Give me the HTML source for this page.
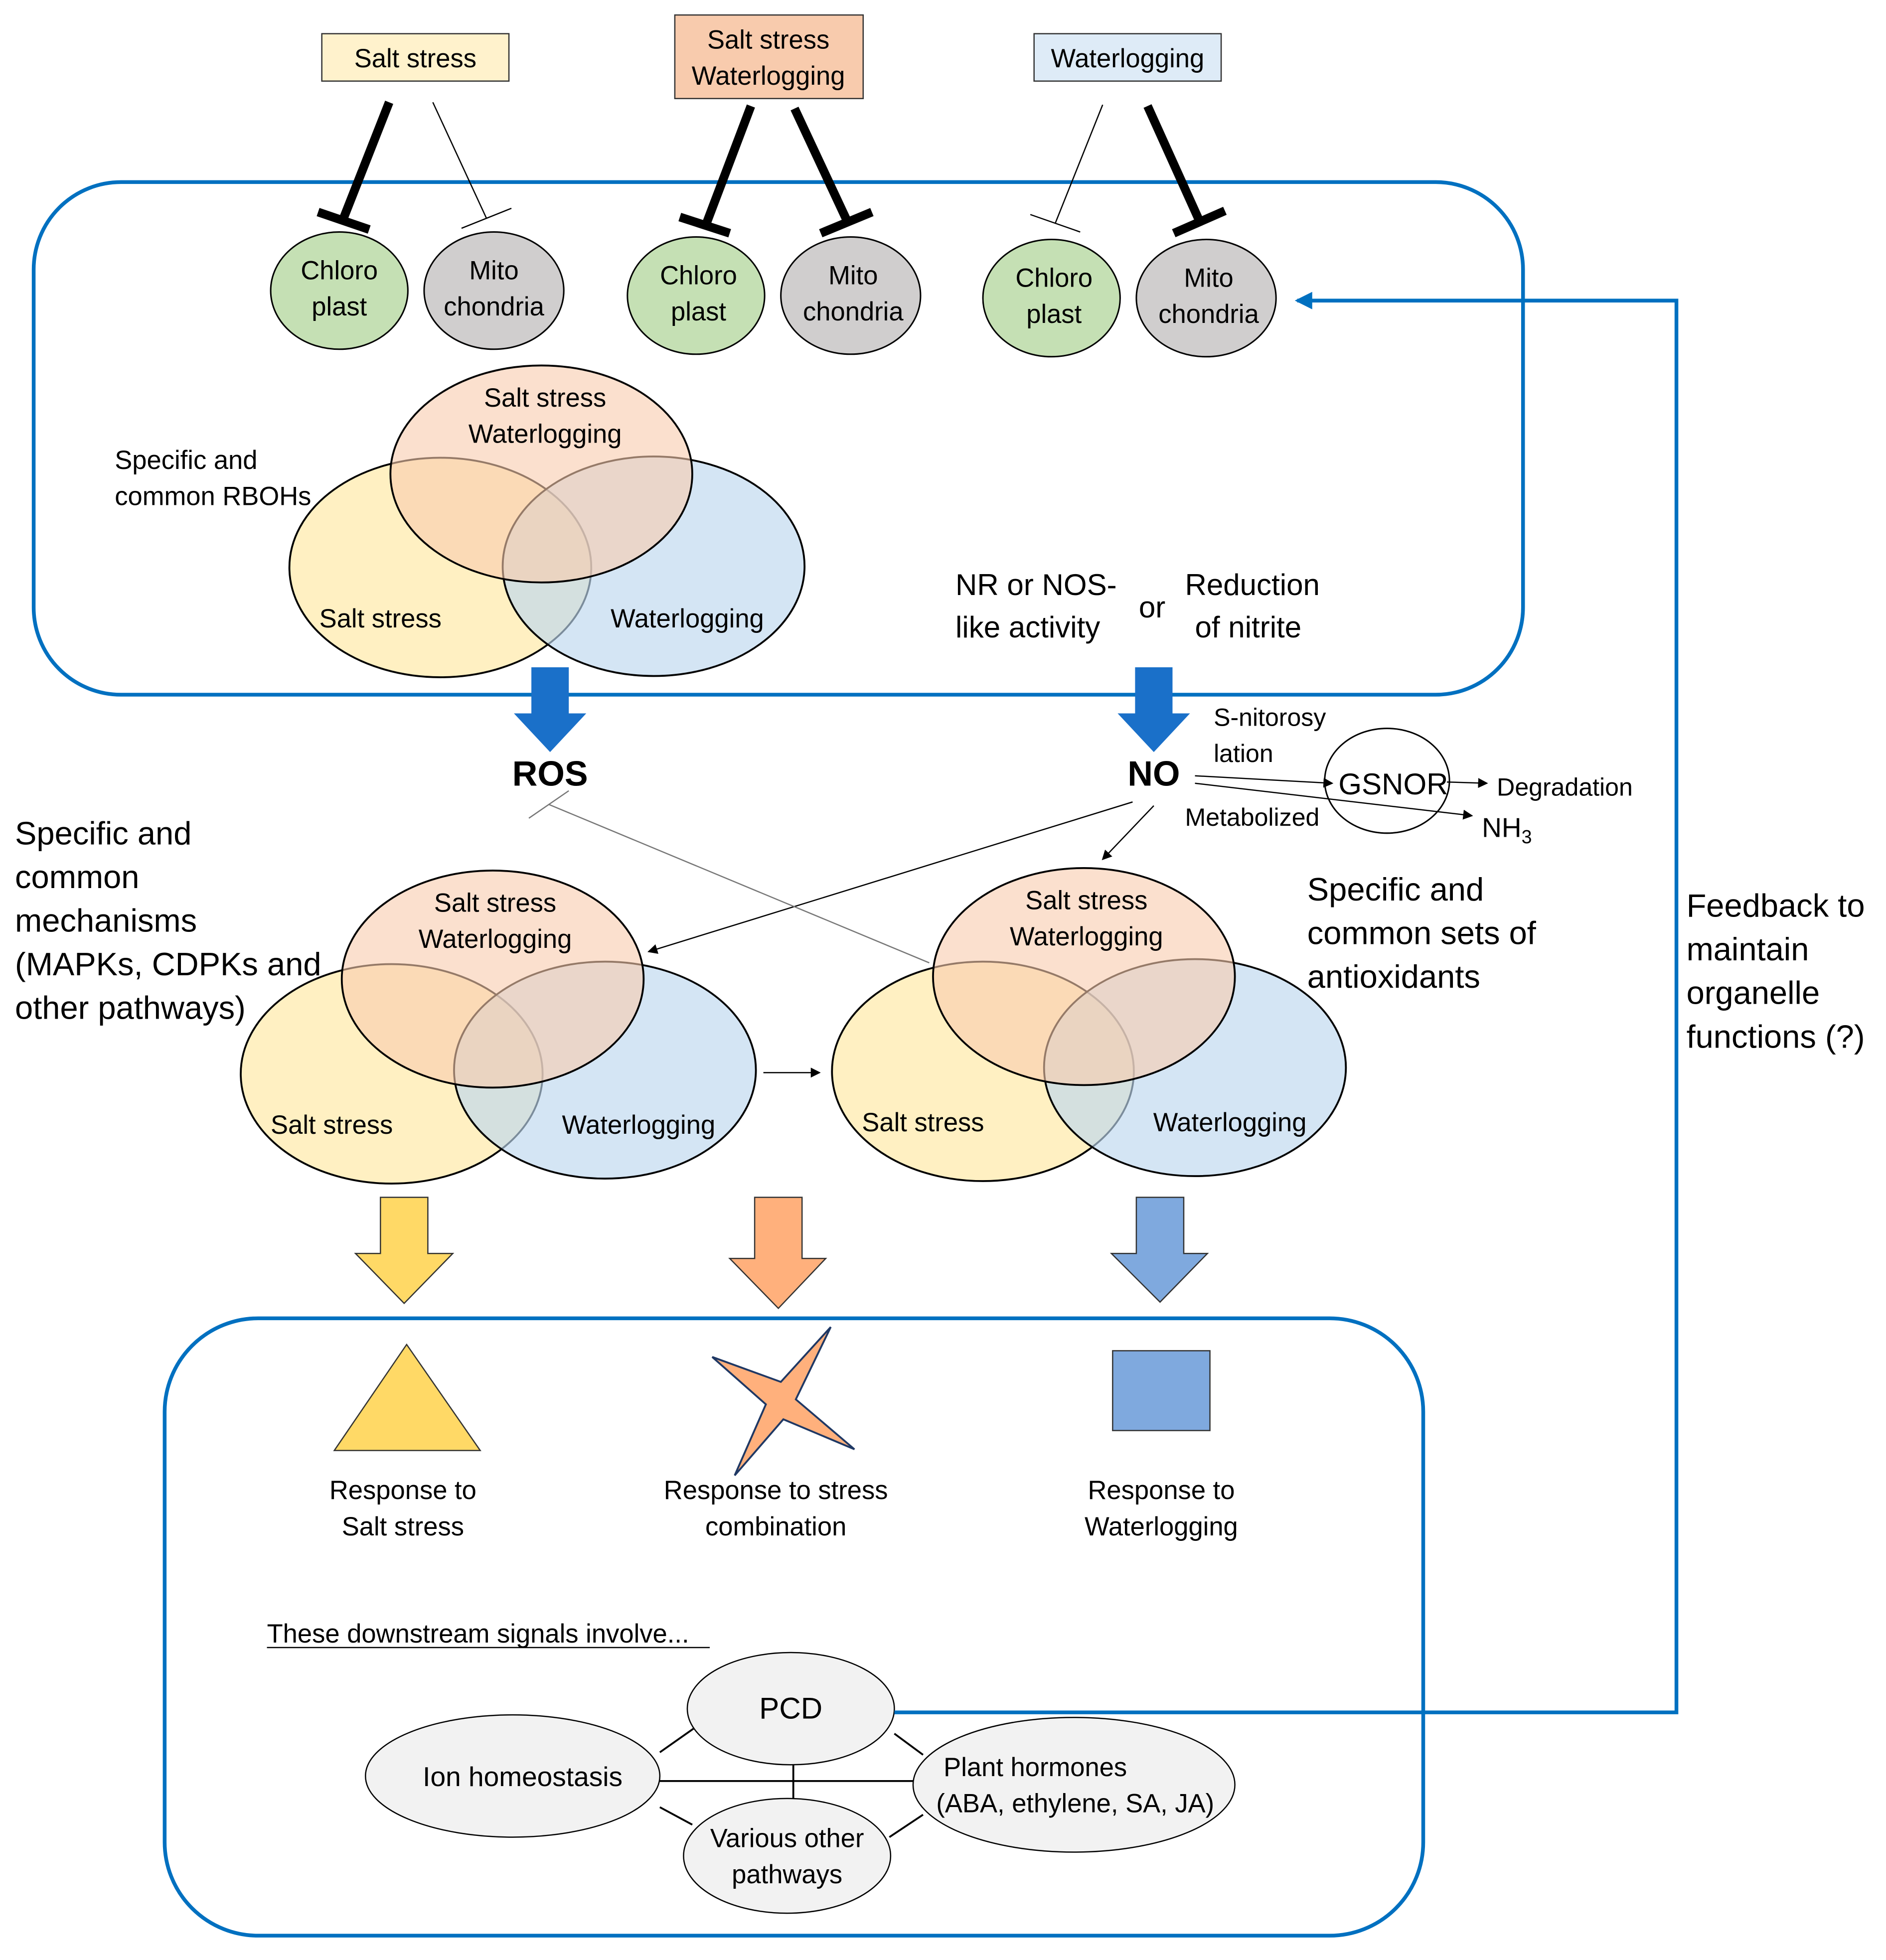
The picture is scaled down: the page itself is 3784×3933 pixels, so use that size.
<!DOCTYPE html>
<html><head><meta charset="utf-8"><style>html,body{margin:0;padding:0;background:#fff}svg{display:block}</style></head>
<body>
<svg xmlns="http://www.w3.org/2000/svg" width="3784" height="3933" viewBox="0 0 1512 1571.5" font-family="Liberation Sans, sans-serif" fill="#000">
<defs>
<marker id="a" markerWidth="8" markerHeight="8" refX="7" refY="4" orient="auto" markerUnits="userSpaceOnUse"><path d="M0,0 L8,4 L0,8 z" fill="#000"/></marker>
<marker id="ab" markerWidth="14" markerHeight="14" refX="12" refY="7" orient="auto" markerUnits="userSpaceOnUse"><path d="M0,0 L14,7 L0,14 z" fill="#0070c0"/></marker>
</defs>
<rect x="27" y="146" width="1194" height="411" rx="70" fill="none" stroke="#0070c0" stroke-width="3"/>
<rect x="132" y="1057" width="1009" height="495" rx="75" fill="none" stroke="#0070c0" stroke-width="3"/>
<rect x="258" y="27" width="150" height="38" fill="#fff2cc" stroke="#333" stroke-width="1"/>
<text x="333" y="54" font-size="21" text-anchor="middle">Salt stress</text>
<rect x="541" y="12" width="151" height="67" fill="#f8cbad" stroke="#333" stroke-width="1"/>
<text x="616" y="39" font-size="21" text-anchor="middle">Salt stress</text>
<text x="616" y="68" font-size="21" text-anchor="middle">Waterlogging</text>
<rect x="829" y="27" width="150" height="38" fill="#deebf7" stroke="#333" stroke-width="1"/>
<text x="904" y="54" font-size="21" text-anchor="middle">Waterlogging</text>
<g stroke="#000" stroke-linecap="butt">
<line x1="312" y1="82" x2="275" y2="176" stroke-width="7"/><line x1="255" y1="170" x2="296" y2="184" stroke-width="7"/>
<line x1="347" y1="82" x2="390" y2="175" stroke-width="1"/><line x1="370" y1="183" x2="410" y2="167" stroke-width="1"/>
<line x1="602" y1="85" x2="566" y2="180" stroke-width="7"/><line x1="545" y1="174" x2="585" y2="187" stroke-width="7"/>
<line x1="637" y1="87" x2="680" y2="179" stroke-width="7"/><line x1="658" y1="187" x2="699" y2="170" stroke-width="7"/>
<line x1="884" y1="84" x2="846" y2="179" stroke-width="1"/><line x1="826" y1="172" x2="866" y2="186" stroke-width="1"/>
<line x1="920" y1="85" x2="962" y2="178" stroke-width="7"/><line x1="941" y1="187" x2="982" y2="169" stroke-width="7"/>
</g>
<g stroke="#000" stroke-width="1.2" font-size="21" text-anchor="middle">
<ellipse cx="272" cy="233" rx="55" ry="47" fill="#c5e0b4"/><ellipse cx="396" cy="233" rx="56" ry="47" fill="#d0cece"/>
<ellipse cx="558" cy="237" rx="55" ry="47" fill="#c5e0b4"/><ellipse cx="682" cy="237" rx="56" ry="47" fill="#d0cece"/>
<ellipse cx="843" cy="239" rx="55" ry="47" fill="#c5e0b4"/><ellipse cx="967" cy="239" rx="56" ry="47" fill="#d0cece"/>
</g>
<g font-size="21" text-anchor="middle">
<text x="272" y="224">Chloro</text><text x="272" y="253">plast</text>
<text x="396" y="224">Mito</text><text x="396" y="253">chondria</text>
<text x="560" y="228">Chloro</text><text x="560" y="257">plast</text>
<text x="684" y="228">Mito</text><text x="684" y="257">chondria</text>
<text x="845" y="230">Chloro</text><text x="845" y="259">plast</text>
<text x="969" y="230">Mito</text><text x="969" y="259">chondria</text>
</g>
<g stroke="#000" stroke-width="1.5">
<ellipse cx="353" cy="455" rx="121" ry="88" fill="#ffe699" fill-opacity="0.6"/>
<ellipse cx="524" cy="454" rx="121" ry="88" fill="#bdd7ee" fill-opacity="0.65"/>
<ellipse cx="434" cy="380" rx="121" ry="87" fill="#f8cbad" fill-opacity="0.6"/>
</g>
<g font-size="21" text-anchor="middle">
<text x="437" y="326">Salt stress</text><text x="437" y="355">Waterlogging</text>
<text x="305" y="503">Salt stress</text><text x="551" y="503">Waterlogging</text>
</g>
<text x="92" y="376" font-size="21">Specific and</text><text x="92" y="405" font-size="21">common RBOHs</text>
<text x="766" y="477" font-size="24">NR or NOS-</text><text x="766" y="511" font-size="24">like activity</text>
<text x="913" y="495" font-size="24">or</text>
<text x="950" y="477" font-size="24">Reduction</text><text x="958" y="511" font-size="24">of nitrite</text>
<path d="M426,535 H456 V572 H470 L441,603 L412,572 H426 Z" fill="#1a70c9"/>
<path d="M910,535 H940 V572 H954 L925,603 L896,572 H910 Z" fill="#1a70c9"/>
<text x="441" y="630" font-size="28" font-weight="bold" text-anchor="middle">ROS</text>
<text x="925" y="630" font-size="28" font-weight="bold" text-anchor="middle">NO</text>
<text x="973" y="582" font-size="20">S-nitorosy</text><text x="973" y="611" font-size="20">lation</text>
<ellipse cx="1112" cy="626" rx="50" ry="42" fill="none" stroke="#000" stroke-width="1.2"/>
<text x="1117" y="637" font-size="24" text-anchor="middle">GSNOR</text>
<text x="1200" y="638" font-size="20">Degradation</text>
<text x="1188" y="671" font-size="22">NH<tspan font-size="15" dy="5">3</tspan></text>
<text x="950" y="662" font-size="20">Metabolized</text>
<g stroke="#000" stroke-width="1" fill="none">
<line x1="958" y1="622" x2="1068" y2="628" marker-end="url(#a)"/>
<line x1="1160" y1="627" x2="1192" y2="628" marker-end="url(#a)"/>
<line x1="958" y1="628" x2="1180" y2="654" marker-end="url(#a)"/>
<line x1="925" y1="646" x2="884" y2="689" marker-end="url(#a)"/>
<line x1="908" y1="643" x2="520" y2="763" marker-end="url(#a)"/>
<line x1="612" y1="860" x2="657" y2="860" marker-end="url(#a)"/>
</g>
<g stroke="#777" stroke-width="1">
<line x1="440" y1="645" x2="745" y2="772"/>
<line x1="424" y1="656" x2="456" y2="634"/>
</g>
<g font-size="26">
<text x="12" y="677">Specific and</text><text x="12" y="712">common</text><text x="12" y="747">mechanisms</text>
<text x="12" y="782">(MAPKs, CDPKs and</text><text x="12" y="817">other pathways)</text>
<text x="1048" y="722">Specific and</text><text x="1048" y="757">common sets of</text><text x="1048" y="792">antioxidants</text>
<text x="1352" y="735">Feedback to</text><text x="1352" y="770">maintain</text><text x="1352" y="805">organelle</text><text x="1352" y="840">functions (?)</text>
</g>
<g stroke="#000" stroke-width="1.5">
<ellipse cx="314" cy="861" rx="121" ry="88" fill="#ffe699" fill-opacity="0.6"/>
<ellipse cx="485" cy="858" rx="121" ry="87" fill="#bdd7ee" fill-opacity="0.65"/>
<ellipse cx="395" cy="785" rx="121" ry="87" fill="#f8cbad" fill-opacity="0.6"/>
<ellipse cx="788" cy="859" rx="121" ry="88" fill="#ffe699" fill-opacity="0.6"/>
<ellipse cx="958" cy="856" rx="121" ry="87" fill="#bdd7ee" fill-opacity="0.65"/>
<ellipse cx="869" cy="783" rx="121" ry="87" fill="#f8cbad" fill-opacity="0.6"/>
</g>
<g font-size="21" text-anchor="middle">
<text x="397" y="731">Salt stress</text><text x="397" y="760">Waterlogging</text>
<text x="266" y="909">Salt stress</text><text x="512" y="909">Waterlogging</text>
<text x="871" y="729">Salt stress</text><text x="871" y="758">Waterlogging</text>
<text x="740" y="907">Salt stress</text><text x="986" y="907">Waterlogging</text>
</g>
<g stroke="#333" stroke-width="1">
<path d="M305,960 H343 V1005 H363 L324,1045 L285,1005 H305 Z" fill="#ffd966"/>
<path d="M605,960 H643 V1009 H662 L624,1049 L585,1009 H605 Z" fill="#ffb07c"/>
<path d="M911,960 H949 V1005 H968 L930,1044 L891,1005 H911 Z" fill="#7fa9de"/>
<polygon points="268,1163 326,1078 385,1163" fill="#ffd966"/>
<polygon points="666,1064 638,1122 685,1162 628,1138 589,1183 614,1126 571,1088 626,1108" fill="#ffb07c" stroke="#1f3864" stroke-width="1.5"/>
<rect x="892" y="1083" width="78" height="64" fill="#7fa9de"/>
</g>
<g font-size="21" text-anchor="middle">
<text x="323" y="1202">Response to</text><text x="323" y="1231">Salt stress</text>
<text x="622" y="1202">Response to stress</text><text x="622" y="1231">combination</text>
<text x="931" y="1202">Response to</text><text x="931" y="1231">Waterlogging</text>
</g>
<text x="214" y="1317" font-size="21">These downstream signals involve...</text>
<line x1="214" y1="1321" x2="569" y2="1321" stroke="#000" stroke-width="1"/>
<g stroke="#000" stroke-width="1.5">
<line x1="529" y1="1405" x2="556" y2="1386"/><line x1="529" y1="1428" x2="733" y2="1428"/>
<line x1="636" y1="1415" x2="636" y2="1442"/><line x1="529" y1="1449" x2="555" y2="1463"/>
<line x1="717" y1="1390" x2="740" y2="1407"/><line x1="713" y1="1473" x2="740" y2="1455"/>
</g>
<g stroke="#000" stroke-width="1" fill="#f2f2f2">
<ellipse cx="634" cy="1370" rx="83" ry="45"/><ellipse cx="411" cy="1424" rx="118" ry="49"/>
<ellipse cx="861" cy="1431" rx="129" ry="54"/><ellipse cx="631" cy="1488" rx="83" ry="46"/>
</g>
<g font-size="22" text-anchor="middle">
<text x="634" y="1378" font-size="24">PCD</text>
<text x="419" y="1432">Ion homeostasis</text>
<text x="830" y="1424" font-size="21">Plant hormones</text><text x="862" y="1453" font-size="21">(ABA, ethylene, SA, JA)</text>
<text x="631" y="1481" font-size="21">Various other</text><text x="631" y="1510" font-size="21">pathways</text>
</g>
<polyline points="717,1373 1344,1373 1344,241 1040,241" fill="none" stroke="#0070c0" stroke-width="3" marker-end="url(#ab)"/>
</svg>
</body></html>
